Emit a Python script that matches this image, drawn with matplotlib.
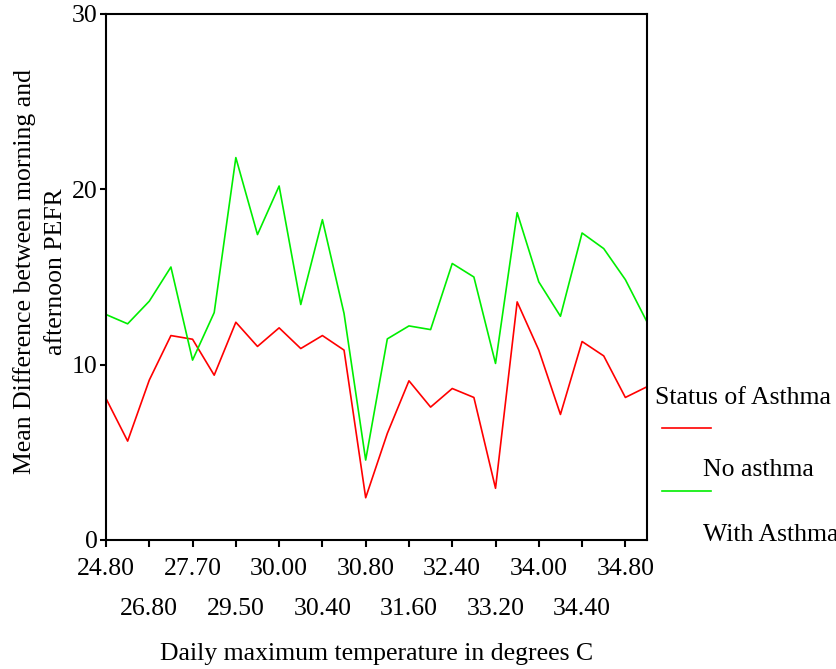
import matplotlib
matplotlib.use("Agg")
import matplotlib.pyplot as plt
from matplotlib.lines import Line2D

# Data (SPSS style line chart)
temps = ["24.80", "25.70", "26.80", "27.40", "27.70", "28.50", "29.50", "29.80",
         "30.00", "30.20", "30.40", "30.60", "30.80", "31.20", "31.60", "32.00",
         "32.40", "32.80", "33.20", "33.60", "34.00", "34.20", "34.40", "34.60",
         "34.80", "35.30"]
no_asthma = [8.07, 5.64, 9.12, 11.66, 11.45, 9.40, 12.42, 11.04, 12.10, 10.92,
             11.66, 10.83, 2.41, 6.08, 9.08, 7.58, 8.64, 8.13, 2.95, 13.58,
             10.83, 7.16, 11.32, 10.50, 8.13, 8.74]
with_asthma = [12.86, 12.33, 13.62, 15.57, 10.26, 12.97, 21.81, 17.42, 20.19, 13.43,
               18.27, 12.92, 4.56, 11.47, 12.21, 12.00, 15.77, 15.00, 10.07, 18.67,
               14.72, 12.76, 17.51, 16.62, 14.85, 12.44]
series_labels = ["No asthma", "With Asthma"]
y_ticks = [0, 10, 20, 30]

plt.rcParams['font.family'] = ['Liberation Serif', 'DejaVu Serif']
fs = 18.5

fig = plt.figure(figsize=(8.37, 6.69), dpi=100)
ax = fig.add_axes([106/837, 1 - 540/669, 541/837, 526/669])

x = list(range(len(temps)))
ax.plot(x, no_asthma, color="#ff0000", lw=1.2)
ax.plot(x, with_asthma, color="#00ee00", lw=1.2)

ax.set_xlim(0, len(temps) - 1)
ax.set_ylim(0, 30)
for s in ax.spines.values():
    s.set_linewidth(1.5)

ax.set_yticks(y_ticks)
ax.set_yticklabels([str(v) for v in y_ticks], fontsize=fs)
ax.tick_params(axis='y', length=4, width=1.5, pad=2)

tick_idx = x[::2][:13]
ax.set_xticks(tick_idx)
ax.set_xticklabels([temps[i] for i in tick_idx], fontsize=fs)
ax.tick_params(axis='x', length=5, width=1.5)
for k, t in enumerate(ax.xaxis.get_major_ticks()):
    t.set_pad(8 if k % 2 == 0 else 37)

ax.set_xlabel("Daily maximum temperature in degrees C", fontsize=fs, labelpad=16)
fig.text(40/837, 1 - 272/669, "Mean Difference between morning and\nafternoon PEFR",
         rotation=90, ha='center', va='center', fontsize=fs, multialignment='center',
         linespacing=1.55)

# SPSS style legend, outside the axes
fig.text(655/837, 1 - 398/669, "Status of Asthma", fontsize=fs, va='center')
fig.add_artist(Line2D([662/837, 711/837], [1 - 428/669] * 2, color="#ff0000", lw=1.2))
fig.text(703/837, 1 - 470/669, series_labels[0], fontsize=fs, va='center')
fig.add_artist(Line2D([662/837, 711/837], [1 - 491/669] * 2, color="#00ee00", lw=1.2))
fig.text(703/837, 1 - 535/669, series_labels[1], fontsize=fs, va='center')

fig.savefig("out.png", dpi=100)
